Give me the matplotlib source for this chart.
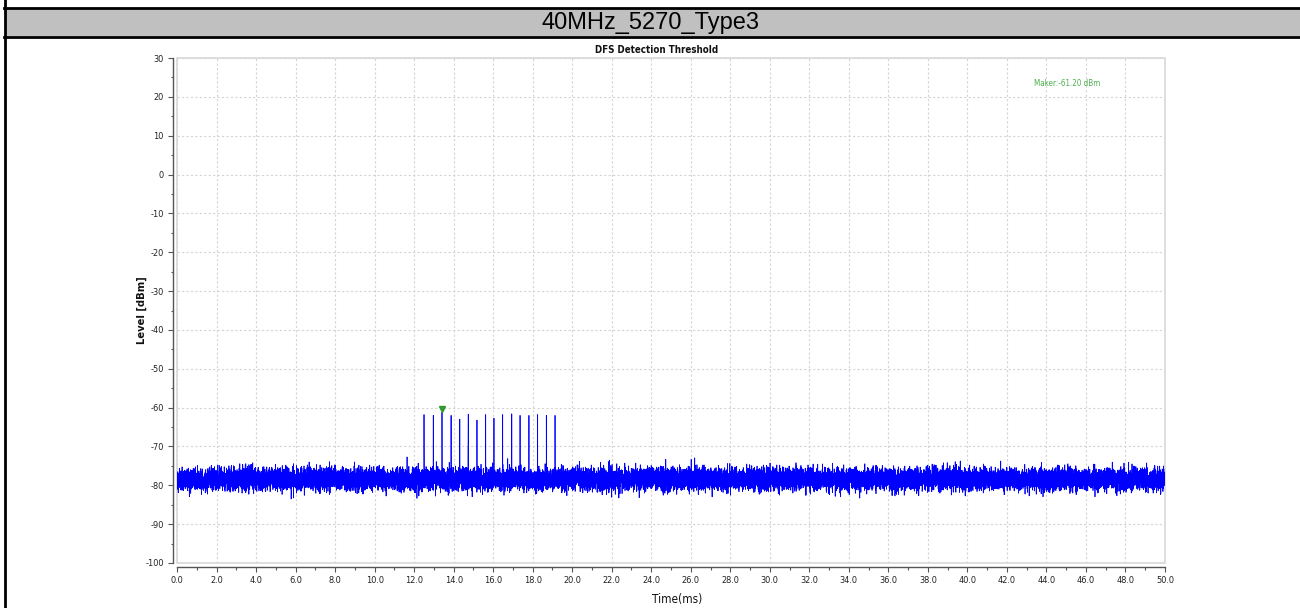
import numpy as np
import matplotlib
matplotlib.use("Agg")
import matplotlib.pyplot as plt
from matplotlib import font_manager
from matplotlib.patches import Rectangle
from matplotlib.lines import Line2D
from matplotlib.ticker import MultipleLocator, FormatStrFormatter

# ---- data ---------------------------------------------------------------
header_text = "40MHz_5270_Type3"
chart_title = "DFS Detection Threshold"
x_label = "Time(ms)"
y_label = "Level [dBm]"
marker_label = "Maker:-61.20 dBm"

time_range_ms = [0.0, 50.0]
level_range_dbm = [-100, 30]

# radar burst: pulse times (ms), peak level and the level of the adjacent sample
pulse_times_ms = [12.50, 12.97, 13.41, 13.87, 14.31, 14.74, 15.18, 15.62,
                  16.04, 16.48, 16.94, 17.36, 17.81, 18.25, 18.69, 19.13]
pulse_peaks_dbm = [-61.8, -62.0, -61.2, -62.0, -63.0, -61.7, -63.2, -61.8,
                   -62.7, -61.8, -61.6, -62.0, -62.0, -61.8, -62.0, -62.0]
pulse_shoulders_dbm = [-70.0, -76.0, -69.0, -76.0, -72.5, -70.0, -76.0, -69.5,
                       -76.0, -76.0, -76.0, -76.0, -76.0, -76.0, -72.0, -73.0]

marker_time_ms = 13.41
marker_level_dbm = -61.20

noise_floor_dbm = -78.4
noise_spread_db = 1.4
sample_count = 20000

# ---- fonts --------------------------------------------------------------
entries = font_manager.fontManager.ttflist
names = {f.name for f in entries}
if "Liberation Sans Narrow" in names:
    narrow = dict(family="Liberation Sans Narrow")
elif any("DejaVuSansCondensed" in f.fname for f in entries):
    narrow = dict(family="DejaVu Sans", stretch="condensed")
else:
    narrow = dict(family="Liberation Sans")
regular = "Liberation Sans" if "Liberation Sans" in names else "DejaVu Sans"

# ---- trace --------------------------------------------------------------
t = np.linspace(time_range_ms[0], time_range_ms[1], sample_count)
rng = np.random.default_rng(7)
level = noise_floor_dbm + noise_spread_db * rng.standard_normal(sample_count)
for pt, pk, sh in zip(pulse_times_ms, pulse_peaks_dbm, pulse_shoulders_dbm):
    i = int(np.argmin(np.abs(t - pt)))
    level[i] = pk
    level[i + 1] = sh

# ---- figure -------------------------------------------------------------
W, H = 1300, 608
fig = plt.figure(figsize=(W / 100, H / 100), dpi=100)
fig.patch.set_facecolor("white")

def fx(px):
    return px / W

def fy(py):
    return 1 - py / H

# header band with black rules
fig.add_artist(Rectangle((fx(5), fy(36)), fx(W - 5), (36 - 9) / H,
                         transform=fig.transFigure, facecolor="#c0c0c0",
                         edgecolor="none", zorder=0))
fig.add_artist(Line2D([fx(4), 1], [fy(8), fy(8)], transform=fig.transFigure,
                      color="black", lw=2.0))
fig.add_artist(Line2D([fx(4), 1], [fy(36.5), fy(36.5)], transform=fig.transFigure,
                      color="black", lw=2.0))
fig.add_artist(Line2D([fx(5), fx(5)], [0, 1], transform=fig.transFigure,
                      color="black", lw=2.0))
fig.text(0.5, fy(22.5), header_text, ha="center", va="center",
         fontsize=17, family=regular, color="black")

# plot area
left, right, top, bottom = 177, 1165, 58, 563
ax = fig.add_axes([fx(left), fy(bottom), fx(right - left), (bottom - top) / H])
ax.plot(t, level, color="#0000ff", lw=0.55, zorder=3)
ax.set_xlim(*time_range_ms)
ax.set_ylim(*level_range_dbm)

ax.add_patch(Rectangle((0, 0), 1, 1, transform=ax.transAxes, fill=False,
                       edgecolor="#d8d8d8", lw=1.2, zorder=1, clip_on=False))

for s in ("top", "right"):
    ax.spines[s].set_visible(False)
for s in ("left", "bottom"):
    ax.spines[s].set_position(("outward", 3))
    ax.spines[s].set_color("#555555")
    ax.spines[s].set_linewidth(1.0)

ax.xaxis.set_major_locator(MultipleLocator(2))
ax.xaxis.set_minor_locator(MultipleLocator(1))
ax.yaxis.set_major_locator(MultipleLocator(10))
ax.yaxis.set_minor_locator(MultipleLocator(5))
ax.xaxis.set_major_formatter(FormatStrFormatter("%.1f"))
ax.yaxis.set_major_formatter(FormatStrFormatter("%d"))
ax.tick_params(which="major", direction="out", length=3.5, width=0.8,
               color="#555555", labelsize=6.6, labelcolor="#222222", pad=3)
ax.tick_params(which="minor", direction="out", length=1.8, width=0.8,
               color="#555555")
for lab in ax.get_xticklabels() + ax.get_yticklabels():
    lab.set_family(narrow["family"])
    if "stretch" in narrow:
        lab.set_stretch(narrow["stretch"])

ax.grid(True, which="major", color="#d4d4d4", lw=0.8, ls=(0, (2, 2)), zorder=0)
ax.set_axisbelow(True)

ax.plot([marker_time_ms], [marker_level_dbm + 0.9], marker="v", color="#2e9a2e",
        markersize=5, zorder=4, clip_on=False)

fig.text(fx(657), fy(50), chart_title, ha="center", va="center",
         fontsize=7, fontweight="bold", color="#111111", **narrow)
fig.text(fx(142), fy(310), y_label, ha="center", va="center", rotation=90,
         fontsize=8, fontweight="bold", color="#111111", **narrow)
fig.text(fx(677), fy(600), x_label, ha="center", va="center",
         fontsize=8.5, color="#111111", **narrow)
fig.text(fx(1067), fy(84), marker_label, ha="center", va="center",
         fontsize=5.8, color="#4caf50", **narrow)

fig.savefig("out.png", dpi=100)
